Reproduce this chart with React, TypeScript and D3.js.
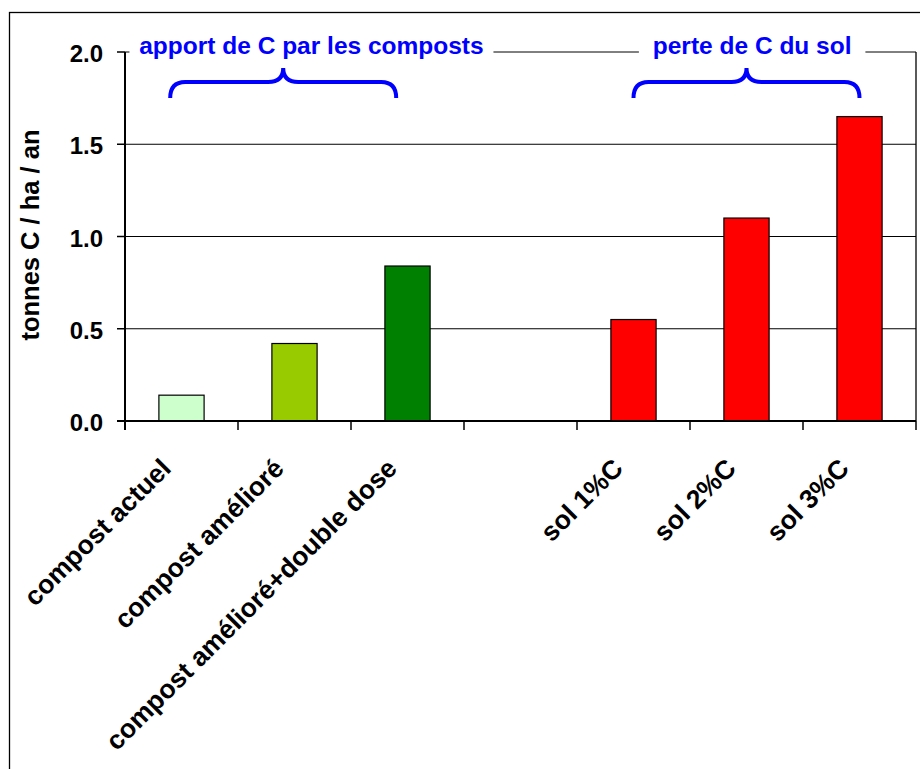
import React from "react";
import * as d3 from "d3";

// chart data
const categories = [
  "compost actuel",
  "compost amélioré",
  "compost amélioré+double dose",
  "",
  "sol 1%C",
  "sol 2%C",
  "sol 3%C",
];
const values: (number | null)[] = [0.14, 0.42, 0.84, null, 0.55, 1.1, 1.65];
const barColors = ["#CCFFCC", "#99CC00", "#008000", "none", "#FF0000", "#FF0000", "#FF0000"];
const yTicks = [0, 0.5, 1.0, 1.5, 2.0];
const yTitle = "tonnes C / ha / an";

// group annotations (positions in category index units)
const groupLabels = ["apport de C par les composts", "perte de C du sol"];
const groupSpans = [
  [-0.1, 1.9],
  [4, 6],
];
const groupTextPos = [1.15, 5.05];

const W = 920;
const H = 769;
const left = 125;
const right = 916;
const top = 52;
const bottom = 421;
const font = "'Liberation Sans', Arial, sans-serif";

function brace(x1: number, x2: number, xm: number) {
  const yEnd = 98;
  const yMid = 82;
  const yTip = 68;
  const r = 15;
  return (
    `M${x1},${yEnd} Q${x1},${yMid} ${x1 + r},${yMid} L${xm - r},${yMid} Q${xm},${yMid} ${xm},${yTip}` +
    ` Q${xm},${yMid} ${xm + r},${yMid} L${x2 - r},${yMid} Q${x2},${yMid} ${x2},${yEnd}`
  );
}

export default function App() {
  const band = d3.scaleBand<string>().domain(categories).range([left, right]).padding(0);
  const bars = d3
    .scaleBand<string>()
    .domain(categories)
    .range([left, right])
    .paddingInner(0.6)
    .paddingOuter(0.3);
  const y = d3.scaleLinear().domain([0, 2]).range([bottom, top]);
  const idx = d3.scaleLinear().domain([-0.5, categories.length - 0.5]).range([left, right]);

  // gaps in the top border behind group titles
  const gaps = groupLabels.map((t, i) => {
    const cx = idx(groupTextPos[i]);
    const w = t.length * 12.5;
    return [cx - w / 2 - 7, cx + w / 2 + 7];
  });

  return (
    <svg
      width={W}
      height={H}
      style={{ position: "absolute", left: 0, top: 0, display: "block", background: "#fff" }}
      fontFamily={font}
      fontWeight="bold"
    >
      {/* outer chart border, cropped */}
      <rect x={9.5} y={12.5} width={1000} height={1000} fill="#fff" stroke="#000" strokeWidth={1.3} />

      {/* gridlines */}
      {yTicks
        .filter((t) => t > 0 && t < 2)
        .map((t) => (
          <line key={t} x1={left} x2={right} y1={y(t)} y2={y(t)} stroke="#000" strokeWidth={1} />
        ))}

      {/* plot area border: top + right */}
      <line x1={left} x2={right} y1={top} y2={top} stroke="#000" strokeWidth={1} />
      <line x1={right} x2={right} y1={top} y2={bottom} stroke="#000" strokeWidth={1.3} />
      {gaps.map(([a, b], i) => (
        <rect key={i} x={a} y={top - 3} width={b - a} height={6} fill="#fff" />
      ))}

      {/* bars */}
      {categories.map((c, i) =>
        values[i] == null ? null : (
          <rect
            key={i}
            x={bars(c)}
            y={y(values[i] as number)}
            width={bars.bandwidth()}
            height={bottom - y(values[i] as number)}
            fill={barColors[i]}
            stroke="#000"
            strokeWidth={1.2}
          />
        )
      )}

      {/* y axis */}
      <line x1={left} x2={left} y1={top} y2={bottom + 9} stroke="#000" strokeWidth={2} />
      {yTicks.map((t) => (
        <g key={t}>
          <line x1={left - 8} x2={left} y1={y(t)} y2={y(t)} stroke="#000" strokeWidth={1.5} />
          <text x={103} y={y(t) + 10} textAnchor="end" fontSize={24} fill="#000">
            {t.toFixed(1)}
          </text>
        </g>
      ))}
      <text
        transform={`translate(39, 235) rotate(-90)`}
        textAnchor="middle"
        fontSize={25.5}
        fill="#000"
      >
        {yTitle}
      </text>

      {/* x axis */}
      <line x1={left - 8} x2={right} y1={bottom} y2={bottom} stroke="#000" strokeWidth={2} />
      {categories.map((c, i) => (
        <line
          key={"t" + i}
          x1={(band(c) as number) + band.bandwidth()}
          x2={(band(c) as number) + band.bandwidth()}
          y1={bottom}
          y2={bottom + 9}
          stroke="#000"
          strokeWidth={1.5}
        />
      ))}
      {categories.map((c, i) => {
        const cx = (band(c) as number) + band.bandwidth() / 2 - 9;
        return (
          <text
            key={"l" + i}
            transform={`translate(${cx}, 470) rotate(-45)`}
            textAnchor="end"
            fontSize={26.5}
            fill="#000"
          >
            {c}
          </text>
        );
      })}

      {/* group annotations */}
      {groupLabels.map((t, i) => (
        <g key={"g" + i}>
          <text x={idx(groupTextPos[i])} y={54} textAnchor="middle" fontSize={24.5} fill="#0000FF">
            {t}
          </text>
          <path
            d={brace(idx(groupSpans[i][0]), idx(groupSpans[i][1]), idx((groupSpans[i][0] + groupSpans[i][1]) / 2))}
            fill="none"
            stroke="#0000FF"
            strokeWidth={4}
          />
        </g>
      ))}
    </svg>
  );
}
